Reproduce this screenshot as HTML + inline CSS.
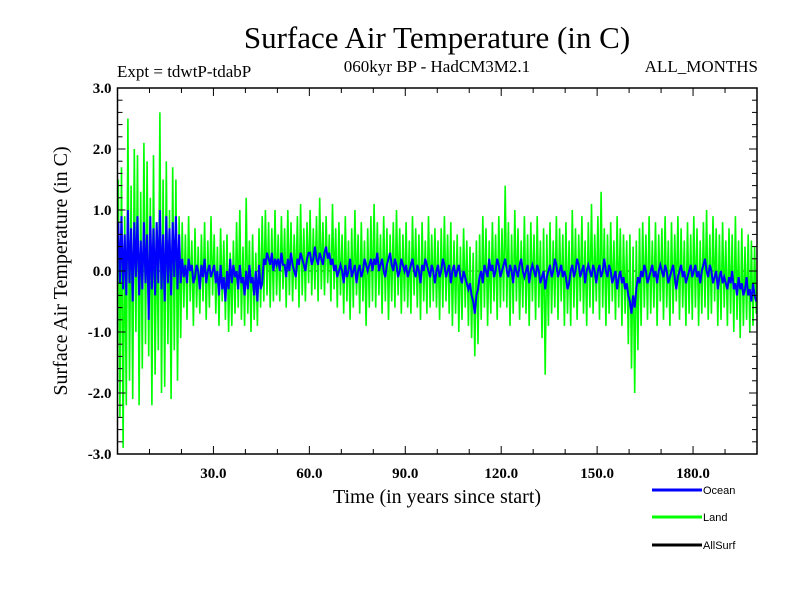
<!DOCTYPE html>
<html><head><meta charset="utf-8"><style>
body{margin:0;background:#fff}
svg{display:block}
.s{font-family:"Liberation Serif",serif;fill:#000}
.tk{font-family:"Liberation Serif",serif;font-size:15px;font-weight:bold}
</style></head><body>
<svg id="c" width="800" height="600">
<text class="s" x="437" y="48" font-size="31" text-anchor="middle">Surface Air Temperature (in C)</text>
<text class="s" x="117" y="77" font-size="17">Expt = tdwtP-tdabP</text>
<text class="s" x="437" y="72" font-size="17" text-anchor="middle">060kyr BP - HadCM3M2.1</text>
<text class="s" x="758" y="72" font-size="17" text-anchor="end">ALL_MONTHS</text>
<text class="s" x="0" y="0" font-size="20" text-anchor="middle" transform="translate(67,271) rotate(-90)">Surface Air Temperature (in C)</text>
<text class="s" x="437" y="503" font-size="20" text-anchor="middle">Time (in years since start)</text>
<g id="plot"></g>
<g>
<line x1="652" y1="490" x2="702" y2="490" stroke="#0000ff" stroke-width="3"/>
<text x="703" y="494" font-family="Liberation Sans,sans-serif" font-size="11">Ocean</text>
<line x1="652" y1="517" x2="702" y2="517" stroke="#00ff00" stroke-width="3"/>
<text x="703" y="521" font-family="Liberation Sans,sans-serif" font-size="11">Land</text>
<line x1="652" y1="545" x2="702" y2="545" stroke="#000" stroke-width="3"/>
<text x="703" y="549" font-family="Liberation Sans,sans-serif" font-size="11">AllSurf</text>
</g>
</svg>
<script>
const xTicks=[30,60,90,120,150,180];
const xTickLabels=["30.0","60.0","90.0","120.0","150.0","180.0"];
const yTicks=[-3,-2,-1,0,1,2,3];
const yTickLabels=["-3.0","-2.0","-1.0","0.0","1.0","2.0","3.0"];
const land=[1.5,-2.4,1.7,-2.9,0.9,-2.2,2.5,-1.8,1.4,-2.1,2.0,-1.0,1.9,-2.2,1.3,-1.6,2.1,-1.2,1.8,-1.4,
1.2,-2.2,1.9,-1.7,0.8,-1.3,2.6,-2.0,1.5,-1.9,1.8,-1.2,1.0,-2.1,1.7,-1.3,1.5,-1.8,0.9,-1.1,
0.8,-0.6,0.6,-0.8,0.9,-0.5,0.5,-0.9,0.7,-0.6,0.4,-0.7,0.6,-0.5,0.8,-0.8,0.5,-0.6,0.9,-0.4,
0.6,-0.7,0.4,-0.9,0.7,-0.5,0.5,-0.8,0.6,-1.0,0.3,-0.9,0.5,-0.7,0.8,-0.6,1.0,-0.8,0.4,-0.9,
1.2,-0.7,0.5,-1.0,0.6,-0.8,0.3,-0.9,0.7,-0.6,0.9,-0.5,1.0,-0.4,0.8,-0.6,0.7,-0.5,1.0,-0.4,
0.6,-0.5,0.9,-0.3,0.7,-0.6,1.0,-0.4,0.8,-0.5,0.6,-0.3,0.9,-0.6,1.1,-0.4,0.7,-0.5,0.8,-0.2,
1.0,-0.4,0.7,-0.3,0.9,-0.5,1.2,-0.3,0.8,-0.4,0.9,-0.2,0.6,-0.5,1.1,-0.3,0.7,-0.6,0.8,-0.4,
0.6,-0.7,0.9,-0.5,0.5,-0.8,0.7,-0.6,1.0,-0.4,0.6,-0.7,0.8,-0.5,0.5,-0.9,0.7,-0.6,0.9,-0.5,
1.1,-0.6,0.8,-0.4,0.6,-0.7,0.9,-0.5,0.7,-0.8,0.6,-0.5,0.8,-0.6,1.0,-0.4,0.7,-0.7,0.6,-0.5,
0.8,-0.6,0.5,-0.7,0.9,-0.4,0.7,-0.6,0.6,-0.8,0.8,-0.5,0.5,-0.7,0.9,-0.6,0.6,-0.5,0.7,-0.6,
0.5,-0.8,0.7,-0.6,0.9,-0.5,0.6,-0.7,0.8,-0.9,0.5,-0.7,0.6,-1.0,0.4,-0.8,0.7,-0.6,0.5,-0.9,
0.4,-1.1,0.3,-1.4,0.5,-1.2,0.6,-0.8,0.9,-0.6,0.7,-0.9,0.5,-0.7,0.8,-0.5,0.6,-0.8,0.9,-0.6,
0.7,-0.5,1.4,-0.6,0.8,-0.9,0.6,-0.7,1.0,-0.5,0.7,-0.8,0.5,-0.6,0.9,-0.7,0.6,-0.9,0.8,-0.5,
0.6,-0.8,0.9,-0.6,0.5,-1.1,0.7,-1.7,0.6,-0.9,0.8,-0.7,0.5,-0.6,0.9,-0.8,0.7,-0.5,0.6,-0.9,
0.8,-0.7,0.5,-0.9,1.0,-0.6,0.7,-0.8,0.6,-0.5,0.9,-0.7,0.5,-0.9,0.8,-0.6,1.1,-0.7,0.6,-0.5,
0.9,-0.8,1.3,-0.6,0.7,-0.9,0.6,-0.7,0.8,-0.5,0.5,-0.8,0.9,-0.6,0.7,-0.9,0.6,-0.7,0.5,-1.2,
0.6,-1.6,0.4,-2.0,0.5,-1.3,0.7,-0.9,0.8,-0.6,0.6,-0.8,0.9,-0.7,0.5,-0.6,0.8,-0.9,0.6,-0.5,
0.7,-0.8,0.9,-0.6,0.5,-0.9,0.8,-0.7,0.6,-0.5,0.9,-0.8,0.7,-0.6,0.5,-0.9,0.8,-0.7,0.6,-0.8,
0.9,-0.6,0.7,-0.9,0.5,-0.7,0.8,-0.6,1.0,-0.8,0.6,-0.7,0.9,-0.5,0.7,-0.9,0.6,-0.8,0.8,-0.6,
0.5,-0.9,0.7,-0.7,0.6,-1.0,0.9,-0.8,0.5,-1.1,0.7,-0.9,0.4,-0.8,0.6,-1.0,0.5,-0.9,0.4,-0.7];
const ocean=[0.8,-0.2,0.9,-0.3,0.6,-0.4,1.0,-0.2,0.7,-0.5,0.8,-0.1,0.9,-0.4,0.5,-0.3,0.8,-0.2,0.6,-0.8,
0.9,-0.3,0.7,-0.4,0.8,-0.2,1.0,-0.3,0.6,-0.5,0.9,-0.2,0.7,-0.4,0.8,-0.1,0.9,-0.3,0.6,-0.2,
0.2,-0.1,0.1,-0.2,0.2,0.0,0.1,-0.2,-0.1,0.1,0.0,-0.3,0.1,-0.1,0.2,-0.2,0.0,0.1,-0.1,0.0,
0.1,-0.2,0.0,-0.4,0.1,-0.3,-0.1,-0.5,0.0,-0.3,0.2,-0.2,0.1,-0.1,0.0,-0.3,0.1,-0.2,-0.1,-0.4,
0.0,-0.3,0.1,-0.2,-0.1,-0.4,0.0,-0.5,0.1,-0.3,-0.2,0.2,0.1,0.3,0.2,0.1,0.3,0.0,0.2,0.1,
0.2,0.0,0.3,0.1,0.1,-0.1,0.2,0.0,0.3,0.1,0.0,-0.1,0.2,0.1,0.3,0.2,0.1,0.0,0.2,0.3,
0.3,0.1,0.2,0.4,0.2,0.1,0.3,0.2,0.1,0.3,0.4,0.2,0.3,0.1,0.2,0.0,0.1,-0.1,0.0,0.1,
0.0,-0.2,0.1,-0.1,0.0,0.2,-0.1,0.0,0.1,-0.2,0.0,0.1,-0.1,0.0,0.2,0.1,0.0,0.1,0.2,0.0,
0.2,0.1,0.3,0.0,0.1,0.2,0.0,-0.1,0.1,0.2,0.3,0.1,0.0,0.2,0.1,-0.1,0.0,0.2,0.1,0.0,
0.1,-0.1,0.0,0.1,0.2,0.0,-0.1,0.1,0.0,-0.2,0.1,0.0,0.2,0.1,0.0,-0.1,0.1,0.0,-0.2,0.0,
0.1,-0.1,0.0,0.2,0.1,-0.1,0.0,0.1,-0.2,0.0,0.1,-0.1,0.0,0.1,-0.1,-0.2,0.0,-0.1,-0.2,-0.3,
-0.2,-0.4,-0.5,-0.7,-0.4,-0.3,-0.1,0.0,-0.2,0.1,0.0,-0.1,0.2,0.0,0.1,-0.1,0.0,0.2,0.1,-0.1,
0.0,0.1,0.2,0.0,-0.1,0.1,0.0,-0.2,0.1,0.0,-0.1,0.1,0.2,0.0,-0.1,0.0,0.1,-0.2,0.0,0.1,
0.0,-0.1,0.1,0.0,-0.2,-0.1,0.0,-0.3,-0.1,0.0,0.1,-0.1,0.0,0.2,0.1,-0.1,0.0,0.1,-0.1,0.0,
-0.1,-0.3,-0.2,0.0,0.1,-0.1,0.0,0.2,0.1,-0.1,0.0,0.1,-0.2,0.0,0.1,0.0,-0.1,0.1,0.0,-0.2,
0.0,0.1,-0.1,0.0,0.2,0.0,-0.1,0.1,0.0,-0.2,-0.1,0.0,-0.3,-0.1,0.0,-0.2,-0.1,-0.3,-0.2,-0.4,
-0.5,-0.7,-0.4,-0.6,-0.3,-0.1,-0.2,0.0,-0.1,0.1,0.0,-0.2,-0.1,0.0,0.1,-0.1,0.0,-0.2,0.0,0.1,
0.0,-0.1,0.1,0.0,-0.2,-0.1,0.0,0.1,-0.1,-0.3,-0.1,0.0,0.1,-0.1,0.0,-0.2,-0.1,0.0,0.1,-0.1,
0.0,0.1,-0.1,0.0,-0.2,0.0,0.1,0.2,0.0,-0.1,0.1,0.0,-0.2,-0.1,0.0,-0.3,-0.1,0.0,-0.2,-0.1,
-0.2,-0.3,-0.1,-0.2,0.0,-0.3,-0.2,-0.4,-0.1,-0.3,-0.2,-0.4,-0.3,-0.1,-0.4,-0.3,-0.5,-0.2,-0.4,-0.5];
const X0=117.5,X1=757,Y0=88,Y1=454,xmin=0,xmax=200,ymin=-3,ymax=3;
const xs=v=>X0+(v-xmin)/(xmax-xmin)*(X1-X0);
const ys=v=>Y1-(v-ymin)/(ymax-ymin)*(Y1-Y0);
const NS="http://www.w3.org/2000/svg";
const g=document.getElementById('plot');
function mk(t,a){const e=document.createElementNS(NS,t);for(const k in a)e.setAttribute(k,a[k]);g.appendChild(e);return e;}
function pts(arr){const step=(xmax-xmin)/arr.length;return arr.map((v,i)=>xs(xmin+(i+0.5)*step).toFixed(1)+','+ys(v).toFixed(1)).join(' ');}
const zl=mk('line',{x1:X0,x2:X1,y1:ys(0),y2:ys(0),stroke:'#000','stroke-width':1,'stroke-dasharray':'3,3'});


const lp=mk('polyline',{points:pts(land),fill:'none',stroke:'#00ff00','stroke-width':1.6});


const op=mk('polyline',{points:pts(ocean),fill:'none',stroke:'#0000ff','stroke-width':2});


const fr=mk('rect',{x:X0,y:Y0,width:X1-X0,height:Y1-Y0,fill:'none',stroke:'#000','stroke-width':1.5});


for(let v=10;v<xmax;v+=10){const L=(v%30===0)?8:5;
mk('line',{x1:xs(v),x2:xs(v),y1:Y1,y2:Y1-L,stroke:'#000'});
mk('line',{x1:xs(v),x2:xs(v),y1:Y0,y2:Y0+L,stroke:'#000'});}
for(let k=-15;k<=15;k++){const v=k/5;const L=(k%5===0)?8:5;
mk('line',{x1:X0,x2:X0+L,y1:ys(v),y2:ys(v),stroke:'#000'});
mk('line',{x1:X1,x2:X1-L,y1:ys(v),y2:ys(v),stroke:'#000'});}
xTicks.forEach((v,i)=>{const t=mk('text',{x:xs(v),y:Y1+24,'text-anchor':'middle',class:'tk'});t.textContent=xTickLabels[i];

});
yTicks.forEach((v,i)=>{const t=mk('text',{x:X0-6,y:ys(v)+5,'text-anchor':'end',class:'tk'});t.textContent=yTickLabels[i];

});
</script>
</body></html>
